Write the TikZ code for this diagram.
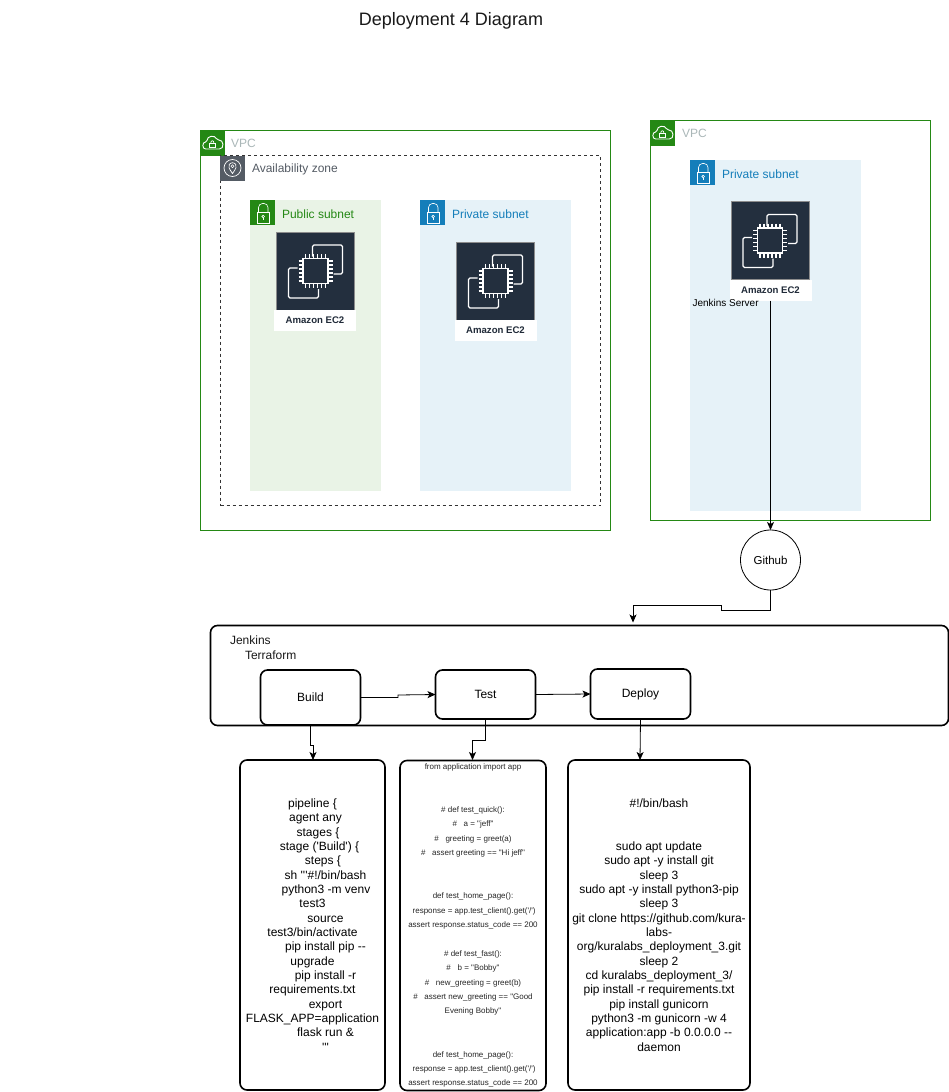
\documentclass[tikz,border=0pt]{standalone}
\usepackage{fontspec}
\usetikzlibrary{arrows.meta}
\newfontfamily\hv{Liberation Sans}
\definecolor{awsgreen}{HTML}{248814}
\definecolor{awsblue}{HTML}{147EBA}
\definecolor{awsgray}{HTML}{545B64}
\definecolor{vpctext}{HTML}{AAB7B8}
\definecolor{pubfill}{HTML}{E9F3E6}
\definecolor{prifill}{HTML}{E6F2F8}
\definecolor{ecdark}{HTML}{232F3E}
\tikzset{
  base/.style={inner sep=0pt,outer sep=0pt,font=\hv\fontsize{12}{14.33}\selectfont},
  vpcbox/.style={base,draw=awsgreen,line width=1pt},
  azbox/.style={base,draw=black!80,line width=0.7pt,dash pattern=on 3pt off 3pt},
  subnet/.style={base,fill=#1},
  tabbox/.style={base,fill=#1,minimum width=25pt,minimum height=25pt},
  lbl/.style={base,anchor=west,text=#1},
  ecbox/.style={base,fill=ecdark,draw=black!45,line width=0.4pt,minimum width=78pt,minimum height=78pt},
  eclabel/.style={base,fill=white,minimum width=82pt,minimum height=21pt,font=\hv\bfseries\fontsize{9.6}{11}\selectfont,text=ecdark!90!black},
  stage/.style={base,draw=black,line width=1.6pt,rounded corners=7pt,align=center},
  codebox/.style={base,draw=black,line width=1.6pt,rounded corners=7pt,align=center,minimum height=330pt},
  conn/.style={draw=black,line width=0.8pt,-{Stealth[length=8pt,width=7pt,inset=2pt]}},
  icw/.style={draw=white,line width=1pt,fill=none},
  lockicon/.pic={
    \draw[icw,line width=0.6pt] (7,12) rectangle (19.5,23);
    \draw[icw,line width=0.6pt,rounded corners=4pt] (8.5,12) -- (8.5,3.5) -- (18,3.5) -- (18,12);
    \draw[icw,line width=0.6pt] (13.2,16.5) circle[radius=1.3pt];
    \draw[icw,line width=0.6pt] (13.2,18) -- (13.2,20);
  },
  cloudicon/.pic={
    \draw[icw,line width=0.9pt,rounded corners=1.5pt] (7,18.5) .. controls (2,18.5) and (2,11.5) .. (7,11.5)
      .. controls (7,5) and (15,4.5) .. (17,9.5) .. controls (24,9) and (24.5,18.5) .. (18,18.5) -- cycle;
    \draw[icw,line width=0.7pt] (9.7,12.5) rectangle (15,16.5);
    \draw[icw,line width=0.7pt] (10.8,12.5) .. controls (10.8,9.5) and (13.9,9.5) .. (13.9,12.5);
  },
  zoneicon/.pic={
    \draw[icw,line width=0.7pt] (12.5,12.5) circle[radius=8.5pt];
    \draw[icw,line width=0.7pt] (12.5,18) .. controls (9,13) and (8,11) .. (9.2,9) .. controls (10.5,6.7) and (14.5,6.7) .. (15.8,9) .. controls (17,11) and (16,13) .. (12.5,18) -- cycle;
    \draw[icw,line width=0.6pt] (12.5,10.8) circle[radius=1.5pt];
  },
  chipicon/.pic={
    \draw[icw,line width=1.2pt,rounded corners=1.5pt] (-3,-14.5) -- (-3,-26) -- (27,-26) -- (27,3) -- (18,3);
    \draw[icw,line width=1.2pt,rounded corners=1.5pt] (-18,-3) -- (-27,-3) -- (-27,27) -- (3,27) -- (3,18);
    \draw[icw,line width=1.6pt] (-12.5,-12.5) rectangle (12.5,12.5);
    \foreach \p in {-10,-6,-2,2,6,10}{
      \draw[white,line width=1.3pt] (\p,-17) -- (\p,-13);
      \draw[white,line width=1.3pt] (\p,13) -- (\p,17);
      \draw[white,line width=1.3pt] (-17,\p) -- (-13,\p);
      \draw[white,line width=1.3pt] (13,\p) -- (17,\p);
    }
  },
}
\begin{document}
\begin{tikzpicture}[x=1pt,y=-1pt]
\useasboundingbox[fill=white] (0,0) rectangle (949,1092);

\node[base,font=\hv\fontsize{18}{20}\selectfont,text=black!90] (title) at (451,21) {Deployment 4 Diagram};

% left VPC
\node[vpcbox,minimum width=410pt,minimum height=400pt] (vpcA) at (405.5,330.5) {};
\node[tabbox=awsgreen] (vpcAtab) at (212.5,143) {};
\pic at (200,130.5) {cloudicon};
\node[lbl=vpctext] (vpcAtxt) at (231,143.5) {VPC};
\node[azbox,minimum width=380pt,minimum height=350pt] (az) at (410.5,330.5) {};
\node[tabbox=awsgray] (aztab) at (232.5,168) {};
\pic at (220,155.5) {zoneicon};
\node[lbl=awsgray] (aztxt) at (252,169) {Availability zone};

% public subnet
\node[subnet=pubfill,minimum width=131pt,minimum height=291pt] (pub) at (315.5,345.5) {};
\node[tabbox=awsgreen] (pubtab) at (262.5,212.5) {};
\pic at (250,200) {lockicon};
\node[lbl=awsgreen] (pubtxt) at (282,214) {Public subnet};
\node[ecbox] (ecA) at (315.5,271) {};
\pic at (315.5,271) {chipicon};
\node[eclabel] (ecAl) at (315,320.5) {Amazon EC2};

% private subnet, left
\node[subnet=prifill,minimum width=151pt,minimum height=291pt] (priA) at (495.5,345.5) {};
\node[tabbox=awsblue] (priAtab) at (432.5,212.5) {};
\pic at (420,200) {lockicon};
\node[lbl=awsblue] (priAtxt) at (452,214) {Private subnet};
\node[ecbox] (ecB) at (495.5,281) {};
\pic at (495.5,281) {chipicon};
\node[eclabel] (ecBl) at (495.5,330.5) {Amazon EC2};

% right VPC
\node[vpcbox,minimum width=280pt,minimum height=400pt] (vpcB) at (790.5,320.5) {};
\node[tabbox=awsgreen] (vpcBtab) at (662.5,133) {};
\pic at (650,120.5) {cloudicon};
\node[lbl=vpctext] (vpcBtxt) at (682,133.5) {VPC};
\node[subnet=prifill,minimum width=171pt,minimum height=351pt] (priB) at (775.5,335.5) {};
\node[tabbox=awsblue] (priBtab) at (702.5,172.5) {};
\pic at (690,160) {lockicon};
\node[lbl=awsblue] (priBtxt) at (722,174) {Private subnet};
\node[ecbox] (ecC) at (770,240.5) {};
\pic at (770,240.5) {chipicon};
\node[eclabel] (ecCl) at (770.5,290) {Amazon EC2};
\node[base,anchor=west,font=\hv\fontsize{10}{12}\selectfont] (jserver) at (692.5,303) {Jenkins Server};

% github
\node[base,draw=black,line width=0.8pt,circle,minimum size=60pt,font=\hv\fontsize{11.5}{13}\selectfont] (gh) at (770.5,560) {Github};

% jenkins
\node[base,draw=black,line width=1.6pt,rounded corners=7pt,minimum width=738pt,minimum height=100pt] (jenkins) at (579.5,675.5) {};
\node[lbl=black!90] (jtxt) at (230,640) {Jenkins};
\node[lbl=black!90] (ttxt) at (245,655) {Terraform};
\node[stage,minimum width=100pt,minimum height=55pt] (bld) at (310.5,697.5) {Build};
\node[stage,minimum width=100pt,minimum height=49pt] (tst) at (485.5,694.5) {Test};
\node[stage,minimum width=100pt,minimum height=50pt] (dep) at (640.5,694) {Deploy};

% code boxes
\node[codebox,minimum width=145pt] (cb) at (312.5,925) {%
pipeline \{\\
\hspace*{6pt}agent any\\
\hspace*{11pt}stages \{\\
\hspace*{14pt}stage ('Build') \{\\
\hspace*{21pt}steps \{\\
\hspace*{26pt}sh '{}'{}'\#!/bin/bash\\
\hspace*{27pt}python3 -m venv\\
test3\\
\hspace*{26pt}source\\
test3/bin/activate\\
\hspace*{26pt}pip install pip -{}-\\
upgrade\\
\hspace*{26pt}pip install -r\\
requirements.txt\\
\hspace*{26pt}export\\
FLASK\_APP=application\\
\hspace*{26pt}flask run \&\\
\hspace*{26pt}'{}'{}'};

\node[codebox,minimum width=146pt,font=\hv\fontsize{8}{14.4}\selectfont,text=black!85] (ct) at (473,925.5) {%
from application import app\\
\mbox{}\\
\mbox{}\\
\# def test\_quick():\\
\#~~~a = "jeff"\\
\#~~~greeting = greet(a)\\
\#~~~assert greeting == "Hi jeff"\\
\mbox{}\\
\mbox{}\\
def test\_home\_page():\\
~response = app.test\_client().get('/')\\
assert response.status\_code == 200\\
\mbox{}\\
\# def test\_fast():\\
\#~~~b = "Bobby"\\
\#~~~new\_greeting = greet(b)\\
\#~~~assert new\_greeting == "Good\\
Evening Bobby"\\
\mbox{}\\
\mbox{}\\
def test\_home\_page():\\
~response = app.test\_client().get('/')\\
assert response.status\_code == 200};

\node[codebox,minimum width=182pt] (cd) at (659,925) {%
\#!/bin/bash\\
\mbox{}\\
\mbox{}\\
sudo apt update\\
sudo apt -y install git\\
sleep 3\\
sudo apt -y install python3-pip\\
sleep 3\\
git clone https://github.com/kura-\\
labs-\\
org/kuralabs\_deployment\_3.git\\
sleep 2\\
cd kuralabs\_deployment\_3/\\
pip install -r requirements.txt\\
pip install gunicorn\\
python3 -m gunicorn -w 4\\
application:app -b 0.0.0.0 -{}-\\
daemon};

% connectors
\coordinate (jin) at (633,622.5);
\draw[conn] (ecCl.south) -- (gh.north);
\draw[conn] (gh.south) -- (770.5,610) -- (721,610) -- (721,605.5) -- (633,605.5) -- (jin);
\draw[conn] (bld.east) -- (398,697.5) -- (398,695) -- (tst.west);
\draw[conn] (tst.east) -- (dep.west);
\draw[conn] (bld.south) -- (310.5,745) -- (313,745) -- (313,760);
\draw[conn] (tst.south) -- (485.5,740) -- (472.5,740) -- (472.5,760);
\draw[conn] (dep.south) -- (640,760);
\end{tikzpicture}
\end{document}
